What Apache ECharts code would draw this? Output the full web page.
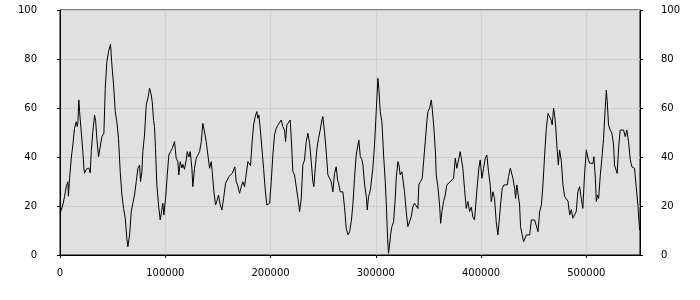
<!DOCTYPE html>
<html><head><meta charset="utf-8">
<script src="https://cdn.jsdelivr.net/npm/echarts@6/dist/echarts.min.js"></script>
<style>html,body{margin:0;padding:0;background:#fff}#c{width:700px;height:300px}</style>
</head><body><div id="c"></div>
<script>
// x in thousands
const xThousands = [0,2.7,4.3,5.9,7.5,8,9.1,10.7,12.2,13.8,15.4,16.4,17,17.9,18.6,20.2,21.7,22.7,23.3,24.9,26.5,27.4,28.7,29.7,31.2,32.8,33.8,35,36.6,38.2,39.8,41.7,43,44.5,46.1,48,49.3,50.9,52.5,54,55.6,57.2,58.8,60.4,62,63.5,64.5,66.1,67.7,69.2,70.8,72.4,74,75.6,76.5,77.8,78.7,80.3,81.9,83.5,85.1,86.7,87.6,88.9,89.8,90.7,92,93.6,95.2,96.5,97.7,98.7,100.3,101.9,103.4,105,106.6,108.8,110.4,112,112.9,114.2,115.8,116.7,118.3,119.9,120.9,122.4,123.7,125.3,126.2,127.8,129.4,131,132.6,134.2,135.7,137.3,138.9,140.5,142.1,143.7,144.6,146.2,147.8,149.4,150.6,152.2,153.8,155.4,157.3,158.9,160.4,162,163.6,164.9,166.1,167.4,168.7,170.6,172.2,173.7,175.3,176.9,178.5,180.1,181,182.3,183.9,185.8,187,188,188.9,190.2,191.8,193.4,195,196.5,197.5,199.1,200.7,202.2,203.8,205.4,207,208.6,210.2,211.7,213.3,214.3,215.5,217.1,218.7,219.7,221.2,222.8,224.4,226,227.6,229.2,230.7,232.3,233.9,235.5,237.1,238.7,240.2,241.2,242.5,244.1,245.6,247.2,248.8,249.7,251.3,252.9,254.5,256.1,257.7,259.2,260.8,262.4,263.7,264.6,266.2,267.5,268.7,270.3,271.9,273.5,275.1,276.7,278.2,279.8,281.4,283,283.9,285.3,286.8,287.8,289.4,291,291.9,293.1,294.1,295,295.7,297.2,298.8,300.4,302,302.9,304.2,305.8,307.4,309,309.9,311.2,312.1,313.1,314,315.3,316.9,318.5,319.4,321,322,323.2,324.8,325.7,327.3,328.9,330.5,332.1,333.7,335.2,336.8,338.4,340,340.9,342.5,344.1,345.4,347,348.5,349.5,351.1,352.7,353.6,355.2,356.8,357.4,359,360.6,361.6,362.8,364.4,366,367.5,369.1,370.7,372.3,373.9,375.5,377,378.6,380.2,381.2,382.7,384.3,385.9,387.5,389.1,390.7,392.2,393.8,394.8,396.3,397.9,399.2,400.8,402.4,404,405.5,407.1,408.7,409.7,411.3,412.8,414.4,416,416.9,418.5,420.1,421.7,423.3,424.9,426.1,427.8,428.7,430.3,431.9,432.8,434,435,436.6,437.5,439.1,440.4,442,443,444.6,446.2,447.8,450.9,452.5,454.1,455.7,457.3,458.8,460.4,462,463.6,465.1,466.7,467.6,468.9,469.9,470.8,472,473.4,474.6,476.3,477.8,479.4,481,482.6,484.2,485.8,487.2,488.8,490.4,492,493.6,495.2,496.7,498.3,500,501.5,503.1,504.7,506.3,507.2,508.6,509.5,510.7,511.7,513.3,514.8,516.4,517.6,519,519.9,521.1,522.7,524.3,525.9,526.8,528.4,529.3,530.9,532.2,533.8,535.4,537,538.5,540.1,541.8,543.3,544.9,545.8,547.4,549,550.6];
const yValues = [17,20.4,23.8,27.9,29.9,24,31.3,39.5,44.9,51.7,54.4,52.4,54,63.3,58.5,50.3,42.2,35.4,33.3,35,34.5,35.5,33.5,42.2,50.3,57.1,55,47.6,40.1,39.5,48.3,49.7,68,78.9,83,86,77.6,69.4,58.5,54.4,47.6,34,24.5,19,15,6.8,3.4,8.2,17.7,21.1,24.5,29.9,35.4,36.7,29.9,34,42.2,49,61.2,64,68,65.3,62.6,55,52.4,43.5,28.6,20.4,14.3,17.7,21.1,16.3,23.1,32.7,40.8,42.2,43.5,46.3,39.5,38,32.7,38.1,35.5,37,35,38.8,42.2,40,42.2,35.4,27.9,35.4,39.5,40.8,42.2,46.3,53.7,50.3,46.3,40.8,35.4,38.1,34,25.8,20.4,22.5,24.5,20.4,18.4,23.1,29.3,30.6,32,31.3,33.3,32.7,36,29.9,28.6,25.2,27.9,29.9,27.9,33,38.1,38.1,36.5,44.9,53.1,57.1,58.5,55.8,57.1,51.7,43.5,35.4,26.5,20.4,19.7,21.1,29.9,40.8,49,51.7,53,53.7,55.1,52.4,51,46.3,53.1,52.4,55.1,47.6,34,32.7,32,23.1,17.7,23.1,36.7,38.8,46.3,49.7,45.6,38.1,29.9,27.9,35.4,43.5,47.6,51,55.1,56.5,50.3,42.2,32.7,31.3,29.9,25.8,33.3,36,30.6,29.3,25.8,26,25.8,19.5,10.9,8.2,9.5,13.6,20.4,31.3,40.8,44.9,46.9,40.1,39,36.7,28.6,23.8,18.4,23.8,25.2,27,26.5,35.4,44.9,58.5,72.1,68,58.5,54.4,40.8,29.9,21.8,6.8,0.7,4.1,8.2,11.6,13.6,23.1,31.3,38.1,36.7,32.7,34,34,25.8,17.7,11.6,11.6,15.6,19.7,21.1,21.1,19,28.6,30,31.3,38.1,46.3,54.4,58.5,59.9,63.3,59.9,51.7,40.8,32.7,27.9,20.4,12.9,17.7,21.8,24.5,28.6,28.6,29.9,30.6,31.3,39.5,35.4,38.8,42.2,42.9,35.4,27.2,19,21.8,17.7,19.5,15.6,14.3,19.7,27.9,35.4,38.8,31.3,35.4,39.5,40.8,34,28.6,21.8,25.8,23.1,13.6,8.2,12.2,20.4,27.2,28.6,29.3,28.6,32,35.4,36,31.3,27.2,23.1,28.6,29,20.4,11.6,8.2,5.4,6,8.2,8.2,8.2,14.3,14.3,13.6,9.5,17.7,20.4,28.6,40.8,51.7,57.8,58.5,55,53.1,59.9,57,53.1,44.9,36.7,42.9,38.1,28.6,23.8,24.5,22,16.3,18.5,15,14.3,17.7,25.8,27.9,23.1,19,32.7,42.9,39.5,37.5,37.2,37.4,40.1,31.3,21.8,24.5,23.1,32.7,39.5,47.6,57.1,67.3,62.6,53.1,51,49.7,44.9,36.7,36,33.3,44.9,51,50.3,51,48.3,51,46.3,38.8,36,36,35.4,27.9,20.4,10.2];
const xTicks = [0,100000,200000,300000,400000,500000];
const yTicks = [0,20,40,60,80,100];

const seriesData = xThousands.map((x,i)=>[Math.round(x*1000), yValues[i]]);
const font = {fontFamily:'DejaVu Sans', fontSize:10, color:'#000'};
const chart = echarts.init(document.getElementById('c'), null, {renderer:'canvas'});
chart.setOption({
  animation:false,
  grid:{left:60,right:60,top:10,bottom:45,show:true,backgroundColor:'#e0e0e0',borderColor:'#000',borderWidth:1},
  xAxis:{type:'value',min:0,max:551000,interval:100000,
    axisLine:{show:true,lineStyle:{color:'#000'}},
    axisTick:{show:true,length:3,lineStyle:{color:'#000'}},
    splitLine:{show:true,lineStyle:{color:'#cfcfcf'}},
    axisLabel:Object.assign({margin:13,showMaxLabel:false,formatter:v=>String(v)},font)},
  yAxis:[
    {type:'value',min:0,max:100,interval:20,position:'left',
      axisLine:{show:true,lineStyle:{color:'#000'}},
      axisTick:{show:true,length:3,lineStyle:{color:'#000'}},
      splitLine:{show:true,lineStyle:{color:'#cfcfcf'}},
      axisLabel:Object.assign({margin:23},font)},
    {type:'value',min:0,max:100,interval:20,position:'right',
      axisLine:{show:true,lineStyle:{color:'#000'}},
      axisTick:{show:true,length:3,lineStyle:{color:'#000'}},
      splitLine:{show:false},
      axisLabel:Object.assign({margin:21},font)}
  ],
  series:[{type:'line',data:seriesData,showSymbol:false,symbol:'none',
    lineStyle:{color:'#000',width:1},silent:true}]
});
</script></body></html>
